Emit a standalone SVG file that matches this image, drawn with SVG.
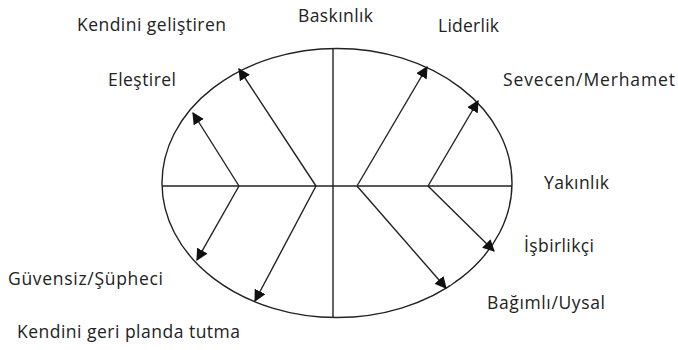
<svg xmlns="http://www.w3.org/2000/svg" width="678" height="350" viewBox="0 0 678 350">
<style>
.t{font-family:"Open Sans","Liberation Sans",sans-serif;font-size:17.5px;fill:#222}
.l{stroke:#222;stroke-width:1.4;fill:none}
.a{stroke:#222;stroke-width:1.4;fill:none;marker-end:url(#ah)}
</style>
<defs>
<marker id="ah" viewBox="0 0 10 10" refX="9" refY="5" markerWidth="12" markerHeight="12" markerUnits="userSpaceOnUse" orient="auto">
<path d="M0,0 L10,5 L0,10 Z" fill="#111"/>
</marker>
</defs>
<rect width="678" height="350" fill="#fff"/>
<g id="frame">
<ellipse class="l" cx="337" cy="183" rx="175" ry="134.5"/>
<line class="l" x1="162" y1="186" x2="512" y2="186"/>
<line class="l" x1="333" y1="48.5" x2="333" y2="317.5"/>
<line x1="449" y1="284" x2="454" y2="280" stroke="#fff" stroke-width="3"/>
</g>
<g id="connectors">
<path class="a" d="M239,186 L193,113"/>
<path class="a" d="M316,186 L239,69"/>
<path class="a" d="M357,186 L427,67"/>
<path class="a" d="M428,186 L478,101"/>
<path class="a" d="M239,186 L197,260"/>
<path class="a" d="M316,186 L255,301"/>
<path class="a" d="M428,186 L494,251"/>
<path class="a" d="M357,186 L446,288"/>
</g>
<g id="n-baskinlik"><text class="t" x="298" y="22" textLength="75">Baskınlık</text></g>
<g id="n-kendini-gelistiren"><text class="t" x="77" y="31" textLength="149">Kendini geliştiren</text></g>
<g id="n-elestirel"><text class="t" x="108" y="86" textLength="68">Eleştirel</text></g>
<g id="n-liderlik"><text class="t" x="438" y="32" textLength="61">Liderlik</text></g>
<g id="n-sevecen"><text class="t" x="503" y="86" textLength="172">Sevecen/Merhamet</text></g>
<g id="n-yakinlik"><text class="t" x="544" y="189" textLength="65">Yakınlık</text></g>
<g id="n-isbirlikci"><text class="t" x="524" y="252" textLength="70">İşbirlikçi</text></g>
<g id="n-bagimli"><text class="t" x="487" y="309" textLength="118">Bağımlı/Uysal</text></g>
<g id="n-guvensiz"><text class="t" x="8" y="285" textLength="155">Güvensiz/Şüpheci</text></g>
<g id="n-kendini-geri"><text class="t" x="17" y="338" textLength="223">Kendini geri planda tutma</text></g>
</svg>
